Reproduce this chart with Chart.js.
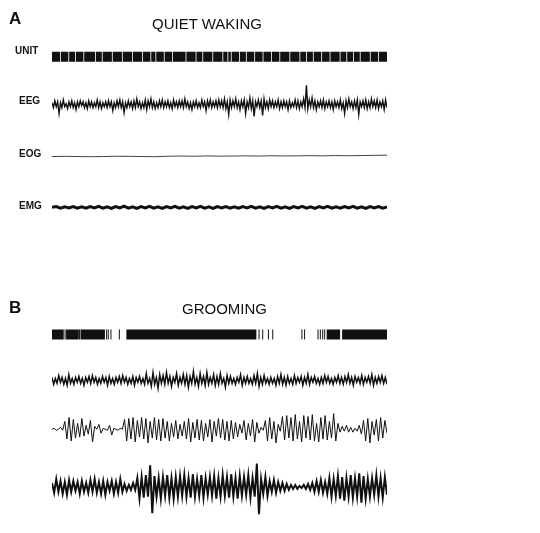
<!DOCTYPE html>
<html>
<head>
<meta charset="utf-8">
<script src="https://cdn.jsdelivr.net/npm/chart.js@4"></script>
<style>
  body { margin: 0; background: #fff; }
  #wrap { position: relative; width: 540px; height: 533px; }
  canvas { position: absolute; left: 0; top: 0; }
  .t { position: absolute; font-family: "Liberation Sans", Arial, sans-serif; color: #111; }
  .lbl { font-size: 10px; font-weight: bold; }
  .pan { font-size: 17px; font-weight: bold; }
  .ttl { font-size: 15px; }
</style>
</head>
<body>
<div id="wrap">
  <canvas id="c" width="540" height="533"></canvas>
  <div class="t pan" style="left:9px;top:9px">A</div>
  <div class="t ttl" style="left:152px;top:15px">QUIET WAKING</div>
  <div class="t lbl" style="left:15px;top:45px">UNIT</div>
  <div class="t lbl" style="left:19px;top:95px">EEG</div>
  <div class="t lbl" style="left:19px;top:148px">EOG</div>
  <div class="t lbl" style="left:19px;top:200px">EMG</div>
  <div class="t pan" style="left:9px;top:298px">B</div>
  <div class="t ttl" style="left:182px;top:300px">GROOMING</div>
</div>
<script>
// baselines of each channel (page rows)
const rowsA = { unit: 52, eeg: 101, eog: 154, emg: 206 };
const rowsB = { unit: 336, eeg: 383, eog: 433, emg: 492 };

// unit activity: thin white gaps in a dense train (A), bursts + single spikes (B), in % of sweep
const unitGapsA = [2.5, 5, 7, 9.5, 13, 15, 18, 21, 24, 27, 29.5, 31, 33.5, 36, 40, 43, 45, 48, 51, 52.5, 53.5, 56, 58, 60.5, 63, 65.5, 68, 71, 74, 76, 78, 80.5, 83, 86, 88, 90, 92, 95, 97.5];
const unitBurstsB = [[0, 3.5], [4.2, 8], [8.5, 15.8], [22.2, 61], [82, 86], [86.6, 100]];
const unitSpikesB = [3.9, 8.2, 16.3, 16.8, 17.6, 20.1, 61.8, 62.9, 64.6, 65.9, 74.6, 75.4, 79.4, 80.1, 80.8, 81.4];

// traces, upward displacement in px, evenly spaced over the sweep
const eegA = [
  2,-3,4,-2,3,-9,2,-3,5,-2,1,-4,3,-2,4,-3,2,-5,3,-2,4,-1,3,-3,2,-4,4,-2,3,-3,2,-2,5,-3,3,-4,2,-2,3,-3,
  4,-2,3,-6,2,-3,4,-2,5,-3,3,-8,2,-3,4,-2,3,-4,4,-3,6,-2,3,-4,2,-3,5,-5,4,-2,6,-3,3,-4,2,-3,4,-2,5,-3,
  3,-2,4,-3,2,-4,5,-2,3,-3,4,-2,4,-3,6,-2,3,-4,2,-5,3,-2,4,-3,2,-3,5,-2,3,-6,4,-2,5,-3,3,-2,4,-3,5,-2,
  4,-3,6,-4,3,-10,5,-3,4,-2,6,-3,3,-5,4,-2,5,-9,3,-3,7,-4,4,-12,3,-2,5,-3,4,-11,6,-3,3,-4,5,-2,4,-3,
  3,-2,5,-4,3,-3,4,-2,3,-5,4,-3,2,-2,5,-3,4,-4,3,-2,6,-3,20,-4,5,-2,7,-3,4,-5,3,-2,4,-3,5,-4,3,-2,4,-3,
  3,-5,4,-2,3,-3,5,-4,2,-9,4,-3,6,-2,3,-4,4,-3,5,-10,3,-2,4,-3,5,-4,3,-3,6,-2,4,-3,5,-4,3,-2,4,-5,5,-3];
const eogA = [0,0.2,0,-0.2,0,0.3,0.2,0,-0.2,0.3,0.5,0.3,0.6,0.4,0.5,0.7,0.5,0.8,0.6,0.7,0.9,0.7,1,0.8,1,1.2,1.4];
const emgA = [
  0,0.8,-0.8,0.5,-0.5,0.9,-0.8,0.5,-0.9,0.8,-0.5,1,-0.8,0.5,-1,0.8,-0.5,1.2,-0.8,0.5,-1,0.8,-0.5,1,-0.8,0.5,-1,0.8,-0.5,1,
  -0.8,0.5,-1,0.8,-0.5,1,-0.8,0.5,-1,0.8,-0.6,0.9,-0.8,0.5,-0.9,0.8,-0.5,1,-0.8,0.5,-1,0.8,-0.5,1.1,-0.8,0.5,-1,0.8,-0.5,1,
  -0.8,0.5,-1,0.8,-0.5,1,-0.8,0.5,-0.9,0.8,-0.5,1,-0.8,0.5,-1,0.8,-0.5,0.9,-0.8,0.5];
const eegB = [
  3,-4,2,-3,5,-2,3,-4,2,-5,6,-3,2,-4,3,-2,4,-3,2,-5,3,-2,4,-3,5,-2,3,-4,2,-3,4,-2,3,-5,4,-3,2,-4,3,-2,
  4,-3,5,-2,3,-4,2,-3,4,-5,3,-2,4,-3,2,-4,7,-3,2,-6,8,-4,3,-8,6,-3,5,-4,8,-3,4,-6,3,-2,7,-5,3,-3,6,-4,
  5,-7,4,-3,9,-4,3,-6,7,-3,4,-5,8,-4,3,-3,6,-5,4,-4,7,-3,2,-7,5,-3,4,-3,2,-4,3,-2,6,-5,3,-3,4,-3,2,-4,
  5,-3,7,-6,3,-4,5,-3,2,-4,3,-3,2,-5,4,-3,6,-4,3,-5,4,-3,2,-4,5,-3,3,-2,4,-5,3,-3,6,-4,3,-2,4,-3,2,-4,
  3,-3,5,-2,4,-3,2,-4,3,-2,5,-3,3,-4,4,-2,6,-3,3,-5,4,-2,3,-3,5,-4,3,-2,4,-3,6,-5,3,-3,4,-2,5,-3,3,-4];
const eogB = [
  0,1,-1,0,2,-1,8,-10,12,-12,10,-9,6,-8,11,-7,4,-5,9,-13,3,0,5,-4,1,0,-1,4,-6,1,0,-1,1,0,10,-12,11,-10,12,-13,
  9,-8,12,-10,11,-14,8,-9,12,-11,10,-12,11,-9,8,-12,6,-8,9,-10,5,-7,8,-10,11,-13,7,-9,10,-11,9,-12,6,-8,10,-13,8,-7,11,-9,
  10,-11,8,-12,9,-10,7,-8,5,-4,9,-11,6,-7,10,-13,7,-4,2,-1,9,-12,12,-10,8,-14,5,-2,13,-11,14,-9,12,-12,15,-10,8,-13,14,-9,
  13,-11,15,-12,6,-13,12,-10,14,-11,8,-9,16,-12,6,-3,3,-2,4,-3,2,-3,1,-2,4,-5,9,-12,11,-14,8,-6,10,-12,12,-9,9,-4];
const emgB = [
  4,-6,8,-5,6,-7,5,-8,7,-5,6,-4,5,-7,6,-5,4,-6,7,-5,8,-6,5,-7,6,-8,5,-4,6,-7,5,-6,8,-5,3,-4,2,-3,4,-3,
  9,-12,10,-11,12,-10,22,-27,11,-10,9,-12,10,-9,12,-11,9,-12,10,-10,11,-9,12,-10,9,-11,13,-10,8,-9,12,-11,9,-8,10,-9,11,-12,
  9,-10,12,-9,10,-11,13,-10,9,-12,11,-9,10,-8,12,-11,9,-10,24,-28,8,-7,10,-9,6,-5,7,-6,5,-4,4,-4,3,-3,2,-2,2,-2,1,-1,
  2,-2,3,-3,4,-5,6,-5,7,-6,5,-7,9,-10,8,-9,11,-12,10,-14,9,-10,12,-11,9,-10,14,-16,11,-12,8,-10,9,-8,12,-10,9,-11,10,-8];

function toPts(vals, base) {
  return vals.map((v, i) => ({ x: i * 100 / (vals.length - 1), y: base - v }));
}
function blockPts(ranges, base) {
  const pts = [];
  ranges.forEach(r => { pts.push({ x: r[0], y: base }, { x: r[1], y: base }, { x: r[1], y: null }); });
  return pts;
}
const unitRangesA = [];
let prev = 0;
unitGapsA.forEach(g => { unitRangesA.push([prev, g - 0.12]); prev = g + 0.12; });
unitRangesA.push([prev, 100]);

function trace(data, w) {
  return { type: 'line', data, borderColor: '#111', borderWidth: w, pointRadius: 0, tension: 0, spanGaps: false, borderCapStyle: 'butt' };
}

new Chart(document.getElementById('c'), {
  type: 'line',
  data: {
    datasets: [
      trace(blockPts(unitRangesA, rowsA.unit), 10),
      trace(toPts(eegA, rowsA.eeg), 1.4),
      trace(toPts(eogA, rowsA.eog), 0.8),
      trace(toPts(emgA, rowsA.emg), 3),
      trace(blockPts(unitBurstsB, rowsB.unit), 10),
      { type: 'scatter', data: unitSpikesB.map(x => ({ x, y: rowsB.unit })), pointStyle: 'line', rotation: 90, radius: 5, borderColor: '#111', borderWidth: 1 },
      trace(toPts(eegB, rowsB.eeg), 1.5),
      trace(toPts(eogB, rowsB.eog), 1),
      trace(toPts(emgB, rowsB.emg), 2)
    ]
  },
  options: {
    responsive: false,
    animation: false,
    layout: { padding: { left: 52, right: 153, top: 0, bottom: 0 } },
    plugins: { legend: { display: false }, tooltip: { enabled: false } },
    scales: {
      x: { type: 'linear', min: 0, max: 100, display: false },
      y: { min: 0, max: 533, reverse: true, display: false }
    }
  }
});
</script>
</body>
</html>
